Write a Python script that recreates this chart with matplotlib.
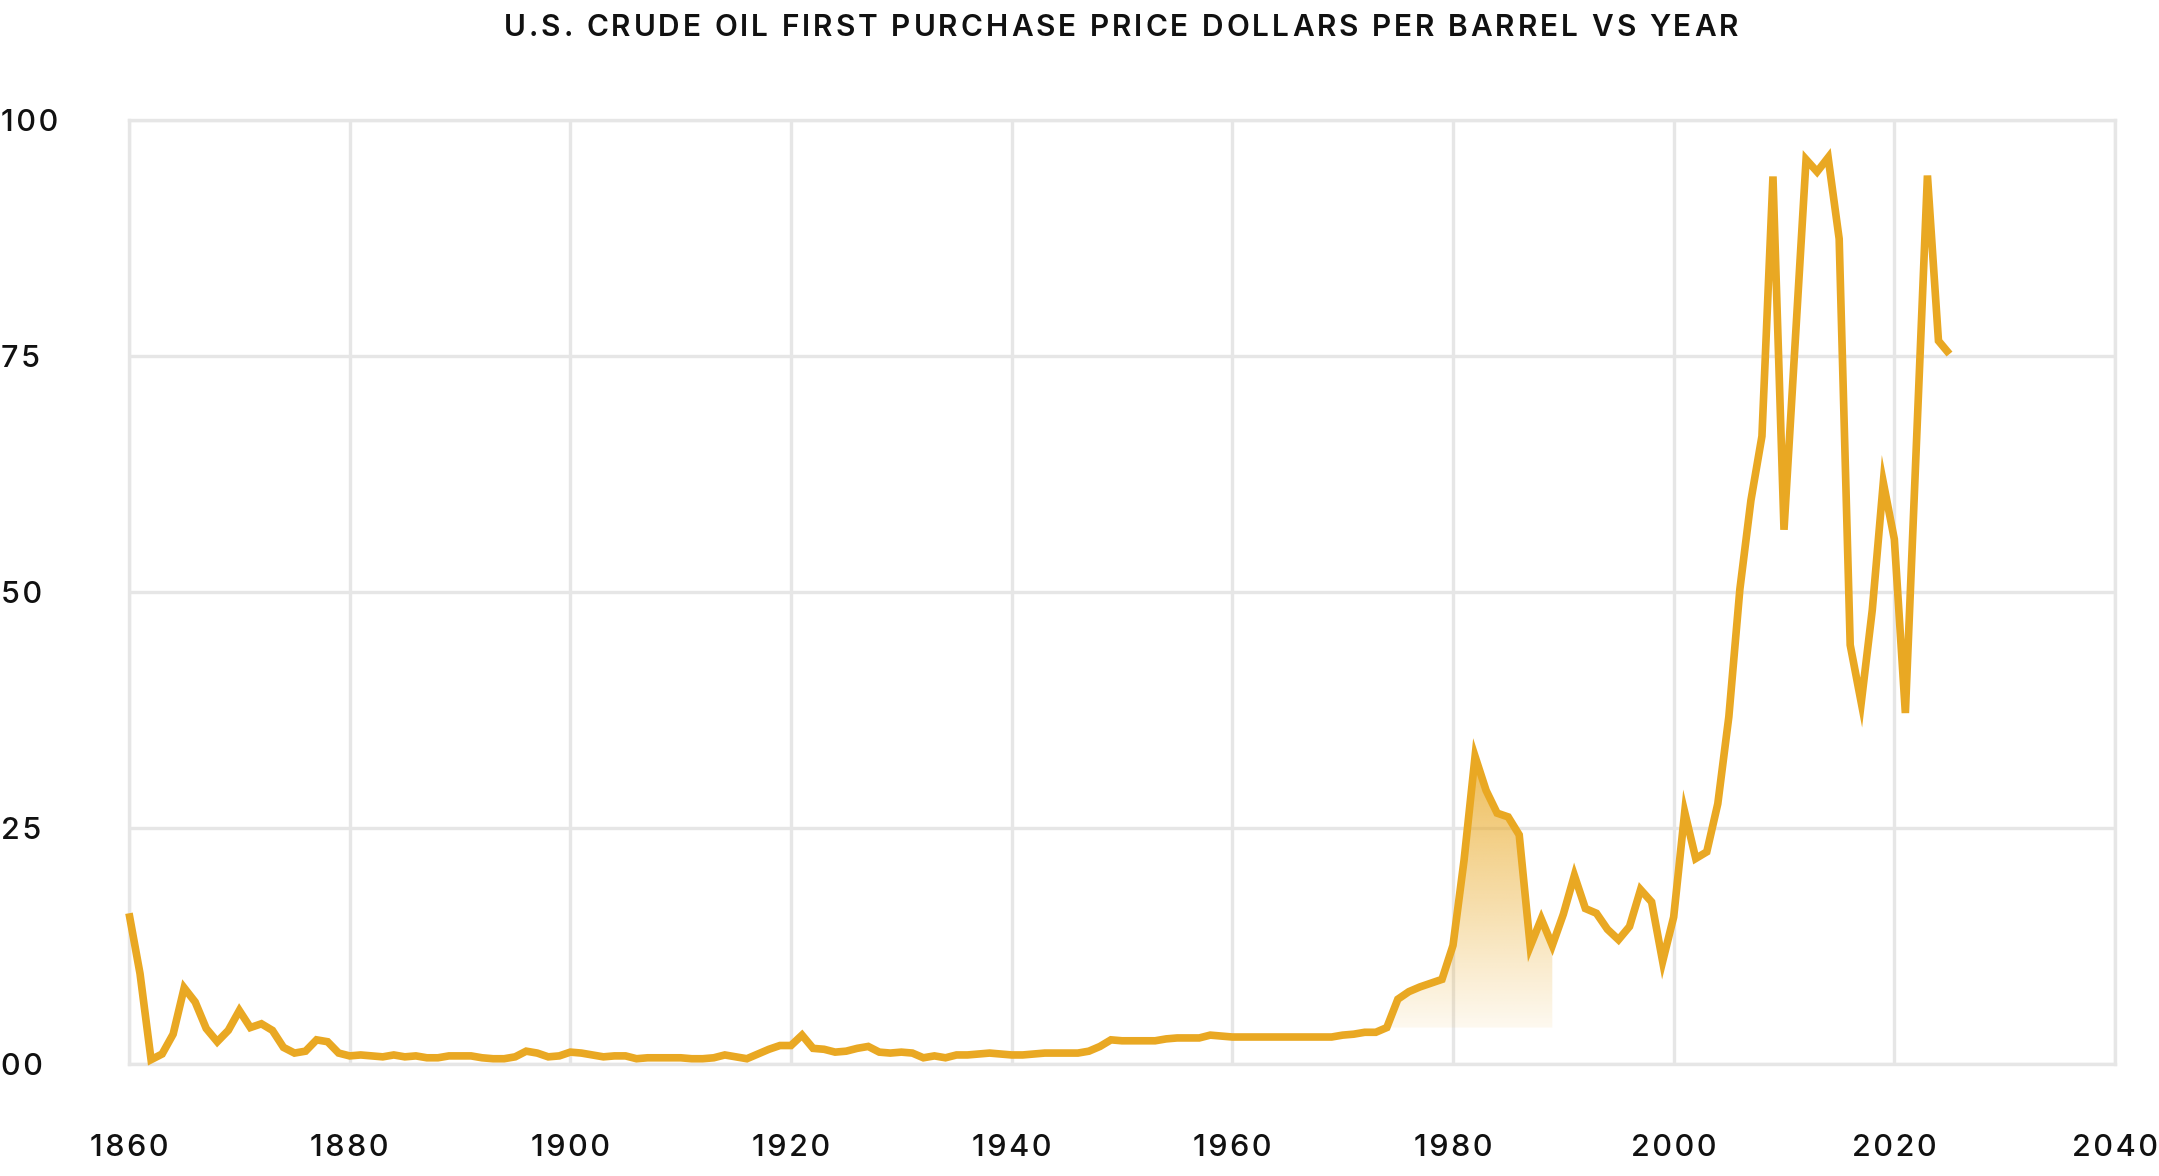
import numpy as np
import matplotlib
matplotlib.use("Agg")
import matplotlib.pyplot as plt
from matplotlib.patches import Polygon
from matplotlib.font_manager import FontProperties

# annual first purchase price
years = np.arange(1859, 2025)
price = [
    16.0, 9.6, 0.5, 1.1, 3.2, 8.1, 6.6, 3.8, 2.4, 3.6,          # 1859-1868
    5.7, 3.9, 4.3, 3.6, 1.8, 1.2, 1.4, 2.6, 2.4, 1.2,           # 1869-1878
    0.9, 1.0, 0.9, 0.8, 1.0, 0.8, 0.9, 0.7, 0.7, 0.9,           # 1879-1888
    0.9, 0.9, 0.7, 0.6, 0.6, 0.8, 1.4, 1.2, 0.8, 0.9,           # 1889-1898
    1.3, 1.2, 1.0, 0.8, 0.9, 0.9, 0.6, 0.7, 0.7, 0.7,           # 1899-1908
    0.7, 0.6, 0.6, 0.7, 1.0, 0.8, 0.6, 1.1, 1.6, 2.0,           # 1909-1918
    2.0, 3.1, 1.7, 1.6, 1.3, 1.4, 1.7, 1.9, 1.3, 1.2,           # 1919-1928
    1.3, 1.2, 0.7, 0.9, 0.7, 1.0, 1.0, 1.1, 1.2, 1.1,           # 1929-1938
    1.0, 1.0, 1.1, 1.2, 1.2, 1.2, 1.2, 1.4, 1.9, 2.6,           # 1939-1948
    2.5, 2.5, 2.5, 2.5, 2.7, 2.8, 2.8, 2.8, 3.1, 3.0,           # 1949-1958
    2.9, 2.9, 2.9, 2.9, 2.9, 2.9, 2.9, 2.9, 2.9, 2.9,           # 1959-1968
    3.1, 3.2, 3.4, 3.4, 3.9, 6.9, 7.7, 8.2, 8.6, 9.0,           # 1969-1978
    12.6, 21.6, 32.6, 29.0, 26.6, 26.2, 24.3, 12.5, 15.4, 12.6,  # 1979-1988
    15.9, 20.0, 16.5, 16.0, 14.3, 13.2, 14.6, 18.5, 17.2, 10.9,  # 1989-1998
    15.6, 26.7, 21.8, 22.5, 27.6, 36.8, 50.3, 59.7, 66.5, 94.0,  # 1999-2008
    56.6, 76.2, 95.8, 94.5, 96.0, 87.4, 44.4, 38.3, 48.1, 61.6,  # 2009-2018
    55.6, 37.2, 65.6, 94.1, 76.6, 75.2,                          # 2019-2024
]
price = np.array(price)

# highlighted stretch under the curve
FILL_START, FILL_END = 1973, 1988

y_ticks = [0, 25, 50, 75, 100]
y_labels = ["00", "25", "50", "75", "100"]
x_ticks = list(range(1860, 2041, 20))

TITLE = "U.S. CRUDE OIL FIRST PURCHASE PRICE DOLLARS PER BARREL VS YEAR"

GOLD = "#E9A823"
GRID = "#E6E6E6"
FONT = "Inter"
HAIR = "\u200a"

W, H = 2159, 1176
fig = plt.figure(figsize=(W / 100, H / 100), dpi=100)
ax = fig.add_axes([129 / W, 1 - 1064.4 / H, (2115 - 129) / W, (1064.4 - 119.8) / H])

# values are plotted at the end of their year
x = years + 1

mask = (years >= FILL_START) & (years <= FILL_END)
fx, fy = x[mask], price[mask]
base = fy[0]
verts = list(zip(fx, fy)) + [(fx[-1], base), (fx[0], base)]
poly = Polygon(verts, closed=True, facecolor="none", edgecolor="none")
ax.add_patch(poly)

rgb = matplotlib.colors.to_rgb(GOLD)
grad = np.zeros((256, 1, 4))
grad[:, 0, :3] = rgb
grad[:, 0, 3] = np.linspace(0.75, 0.07, 256)
im = ax.imshow(grad, extent=(fx[0], fx[-1], base, fy.max()), aspect="auto",
               origin="upper", interpolation="bilinear", zorder=2)
im.set_clip_path(poly)

ax.plot(x, price, color=GOLD, lw=5.5, solid_joinstyle="miter",
        solid_capstyle="butt", zorder=3, clip_on=False)

ax.set_xlim(1860, 2040)
ax.set_ylim(0, 100)
ax.set_xticks(x_ticks)
ax.set_xticklabels([HAIR.join(str(t)) for t in x_ticks])
ax.set_yticks(y_ticks)
ax.set_yticklabels([HAIR.join(s) for s in y_labels])
ax.grid(True, color=GRID, lw=2.4, zorder=0)
ax.set_axisbelow(True)
for sp in ax.spines.values():
    sp.set_color(GRID)
    sp.set_linewidth(2.4)

ax.tick_params(axis="both", length=0, labelsize=22, labelcolor="#111111")
ax.tick_params(axis="x", pad=50)
ax.tick_params(axis="y", pad=92)
for lab in ax.get_xticklabels() + ax.get_yticklabels():
    lab.set_family(FONT)
    lab.set_fontweight("medium")
for lab in ax.get_yticklabels():
    lab.set_horizontalalignment("left")

# title with letter spacing, placed character by character
fp = FontProperties(family=FONT, size=21.5, weight="semibold")
renderer = fig.canvas.get_renderer()


def text_w(s):
    w, _, _ = renderer.get_text_width_height_descent(s, fp, ismath=False)
    return w


advances = [text_w("x" + ch + "x") - text_w("xx") for ch in TITLE]
tracking = 3.0
total = sum(advances) + tracking * (len(TITLE) - 1)
cx, cy = 1121, 28
pos = cx - total / 2
for ch, adv in zip(TITLE, advances):
    fig.text(pos / W, 1 - cy / H, ch, fontproperties=fp, ha="left",
             va="center", color="#111111")
    pos += adv + tracking

fig.savefig("out.png", dpi=100)
